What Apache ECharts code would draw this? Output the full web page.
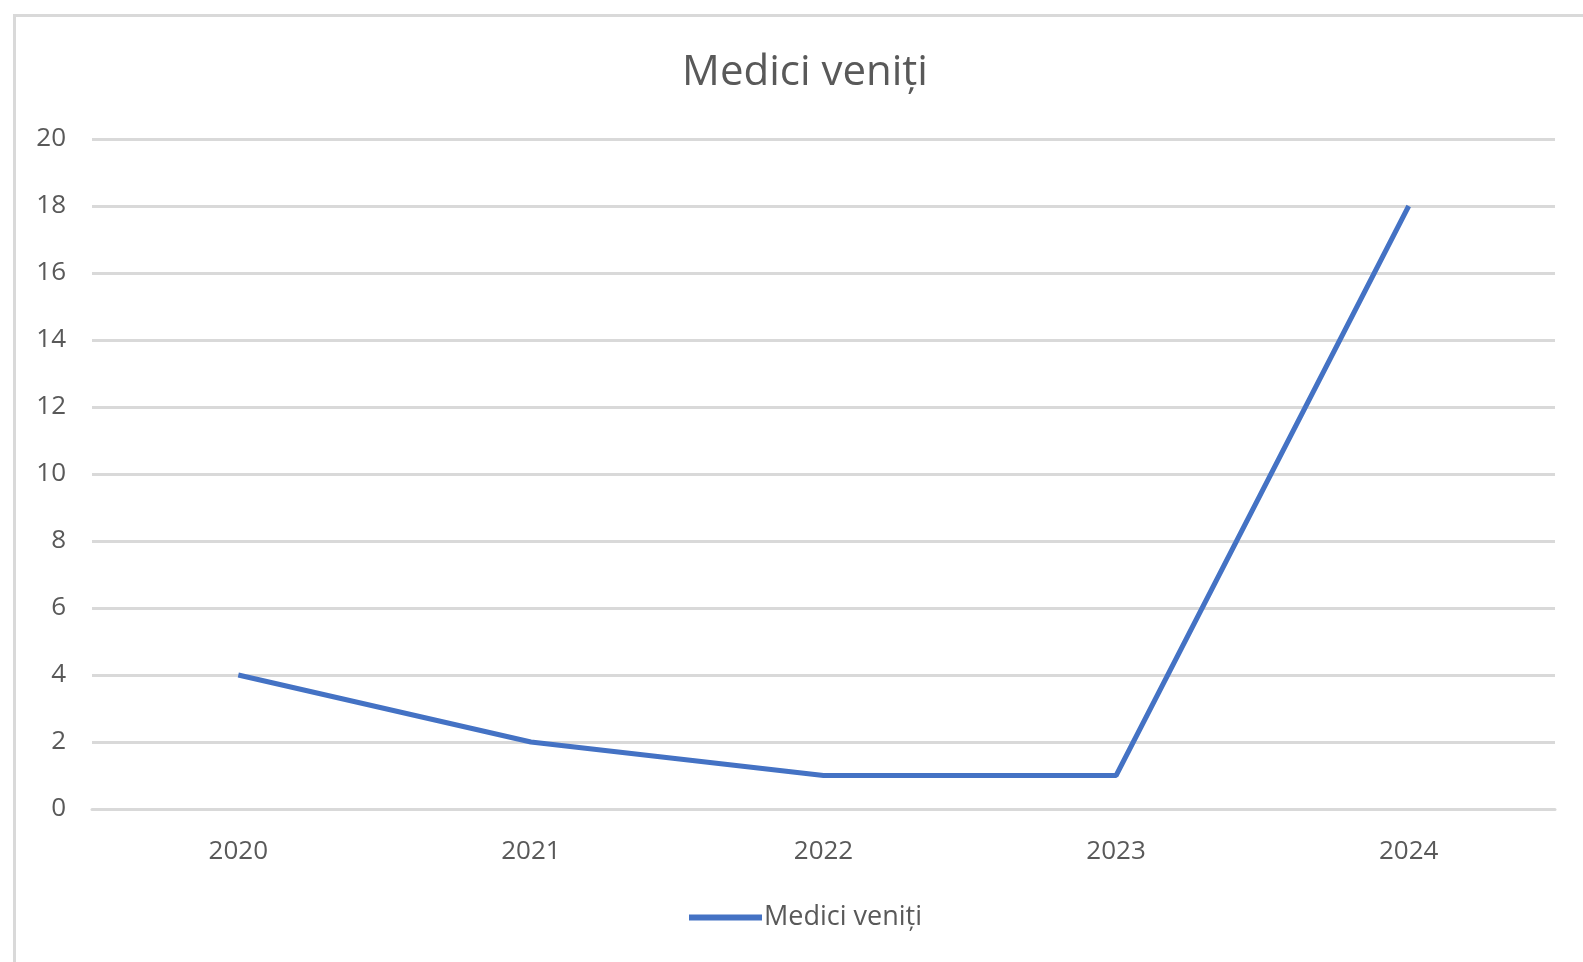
<!DOCTYPE html>
<html>
<head>
<meta charset="utf-8">
<script src="https://cdn.jsdelivr.net/npm/echarts@6/dist/echarts.min.js"></script>
<style>
html,body{margin:0;padding:0;background:#fff;}
#c{width:1583px;height:962px;}
</style>
</head>
<body>
<div id="c"></div>
<script>
const categories = ['2020', '2021', '2022', '2023', '2024'];
const seriesName = 'Medici veniți';
const values = [4, 2, 1, 1, 18];
const titleText = 'Medici veniți';

const FONT = '"Open Sans", "Noto Sans", sans-serif';
const chart = echarts.init(document.getElementById('c'));
chart.setOption({
  animation: false,
  backgroundColor: '#ffffff',
  graphic: [{
    type: 'rect',
    shape: {x: 14.5, y: 15.5, width: 3000, height: 3000},
    style: {fill: 'none', stroke: '#d9d9d9', lineWidth: 3},
    silent: true
  }],
  title: {
    text: titleText,
    left: 800,
    top: 47,
    textAlign: 'center',
    textStyle: {fontFamily: FONT, fontSize: 42, fontWeight: 'normal', color: '#595959'}
  },
  legend: {
    data: [seriesName],
    left: 689,
    top: 904,
    padding: 0,
    icon: 'rect',
    itemWidth: 73,
    itemHeight: 6,
    textStyle: {fontFamily: FONT, fontSize: 27, color: '#595959', padding: [0, 0, 0, -3]}
  },
  grid: {left: 92, right: 28, top: 139, bottom: 153, containLabel: false},
  xAxis: {
    type: 'category',
    data: categories,
    boundaryGap: true,
    axisLine: {show: true, lineStyle: {color: '#d9d9d9', width: 3}},
    axisTick: {show: false},
    axisLabel: {fontFamily: FONT, fontSize: 26, color: '#595959', margin: 30}
  },
  yAxis: {
    type: 'value',
    min: 0,
    max: 20,
    interval: 2,
    axisLine: {show: false},
    axisTick: {show: false},
    splitLine: {lineStyle: {color: '#d9d9d9', width: 3}},
    axisLabel: {fontFamily: FONT, fontSize: 26, color: '#595959', margin: 26}
  },
  series: [{
    name: seriesName,
    type: 'line',
    data: values,
    symbol: 'none',
    lineStyle: {color: '#4472c4', width: 5},
    itemStyle: {color: '#4472c4'}
  }]
});
</script>
</body>
</html>
